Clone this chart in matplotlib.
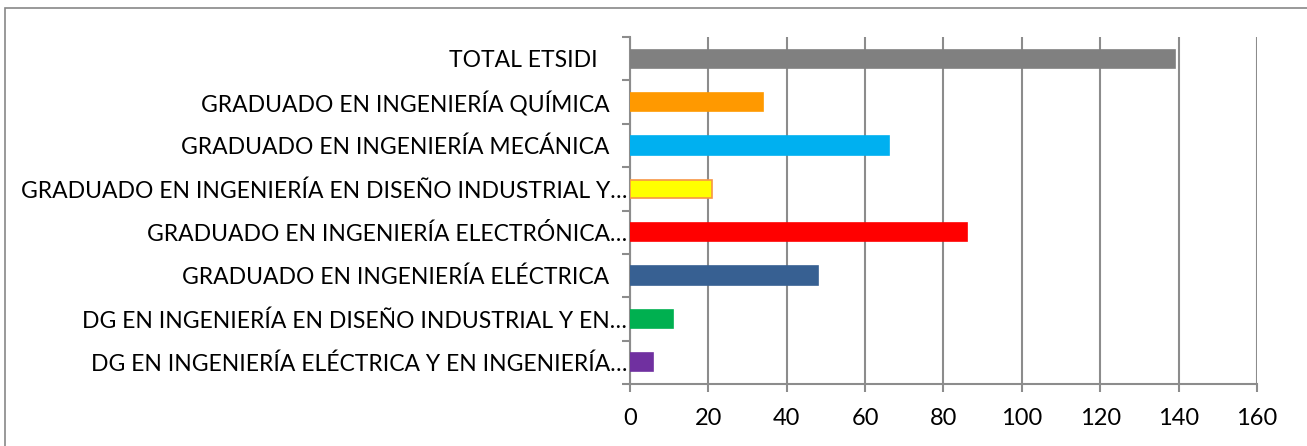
import matplotlib
matplotlib.use("Agg")
from matplotlib import pyplot as plt
from matplotlib.patches import Rectangle

plt.rcParams['font.family'] = ['Lato', 'DejaVu Sans']

# categories listed bottom to top
categories = [
    "DG EN INGENIERÍA ELÉCTRICA Y EN INGENIERÍA…",
    "DG EN INGENIERÍA EN DISEÑO INDUSTRIAL Y EN…",
    "GRADUADO EN INGENIERÍA ELÉCTRICA   ",
    "GRADUADO EN INGENIERÍA ELECTRÓNICA…",
    "GRADUADO EN INGENIERÍA EN DISEÑO INDUSTRIAL Y…",
    "GRADUADO EN INGENIERÍA MECÁNICA   ",
    "GRADUADO EN INGENIERÍA QUÍMICA   ",
    "TOTAL ETSIDI     ",
]
values = [6, 11, 48, 86, 21, 66, 34, 139]
bar_colors = ['#7030A0', '#00B050', '#376092', '#FF0000', '#FFFF00', '#00B0F0', '#FF9900', '#808080']
edge_colors = ['#7030A0', '#00B050', '#376092', '#FF0000', '#F79646', '#00B0F0', '#FF9900', '#808080']
xticks = [0, 20, 40, 60, 80, 100, 120, 140, 160]

fig = plt.figure(figsize=(13.07, 4.46), dpi=100)
ax = fig.add_axes([0.482, 0.139, 0.4797, 0.778])

grid_col = '#8C8C8C'
ypos = list(range(len(categories)))
ax.barh(ypos, values, height=0.42, color=bar_colors, edgecolor=edge_colors, linewidth=1.2, zorder=3)

ax.set_xlim(0, 160)
ax.set_ylim(-0.5, len(categories) - 0.5)
ax.set_xticks(xticks)
ax.set_xticklabels([str(t) for t in xticks], fontsize=17)
ax.set_yticks(ypos)
ax.set_yticklabels(categories, fontsize=16.5)
ax.set_yticks([y + 0.5 for y in range(-1, len(categories))], minor=True)

ax.tick_params(axis='y', which='major', length=0, pad=2)
ax.tick_params(axis='y', which='minor', length=6, color=grid_col, width=1.5)
ax.tick_params(axis='x', length=6, color=grid_col, width=1.5, pad=11)

ax.grid(axis='x', color=grid_col, linewidth=1.5, zorder=0)
for s in ['top', 'right']:
    ax.spines[s].set_visible(False)
for s in ['left', 'bottom']:
    ax.spines[s].set_color(grid_col)
    ax.spines[s].set_linewidth(1.5)

fig.patches.append(Rectangle((5 / 1307, -0.1), 1.1, 1 - 8 / 446 + 0.1, transform=fig.transFigure,
                             fill=False, edgecolor='#888888', linewidth=1.2))

fig.savefig('out.png', dpi=100)
